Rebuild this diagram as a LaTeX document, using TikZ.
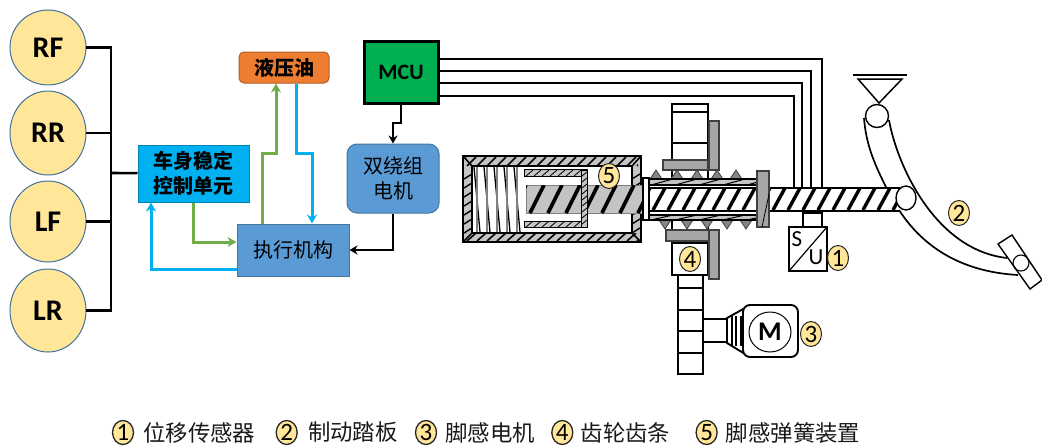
\documentclass[tikz,border=0pt]{standalone}
\usepackage{fontspec}
\usepackage{xcolor}
\setmainfont{Carlito}
\newfontfamily\cjk{Noto Sans CJK SC}
\usetikzlibrary{positioning,arrows.meta,shapes.geometric}
\definecolor{wheelfill}{HTML}{FFE699}
\definecolor{slate}{HTML}{41719C}
\definecolor{cyanline}{HTML}{00B0F0}
\definecolor{greenline}{HTML}{70AD47}
\definecolor{blockblue}{HTML}{5B9BD5}
\definecolor{oilfill}{HTML}{ED7D31}
\definecolor{mcufill}{HTML}{00B050}
\definecolor{metal}{HTML}{C4C4C4}
\definecolor{bar}{HTML}{A6A6A6}
\newcommand{\stripes}[7]{\begin{scope}
  \clip (#1,#2) rectangle (#3,#4);
  \pgfmathsetmacro{\xa}{#1-#6}\pgfmathsetmacro{\xb}{\xa+#5}
  \foreach \sx in {\xa,\xb,...,#3} \draw[line width=#7] (\sx,#4) -- ++(#6,#2-#4);
\end{scope}}

\begin{document}
\begin{tikzpicture}[x=1pt, y=-1pt, >=Stealth,
  wheel/.style={ellipse, draw=slate, fill=wheelfill, line width=1pt, minimum width=76pt,
    inner sep=0pt, outer sep=0pt, font=\fontsize{30}{33}\selectfont\bfseries},
  block/.style={rectangle, draw=#1!75!black, fill=#1, line width=1pt, align=center, inner sep=0pt,
    font=\fontsize{20}{25}\selectfont\cjk},
  badge/.style={ellipse, draw=black!85, fill=wheelfill, line width=1pt, minimum width=21pt, minimum height=25pt,
    inner sep=0pt, font=\fontsize{25}{27}\selectfont},
  legend/.style={font=\fontsize{22.4}{26}\selectfont\cjk, inner sep=0pt, text=black!90},
  wire/.style={line width=2.6pt, black},
  greenarrow/.style={line width=3pt, greenline, -{Stealth[length=9pt,width=10pt]}},
  cyanarrow/.style={line width=3pt, cyanline, -{Stealth[length=9pt,width=10pt]}},
  dark/.style={line width=2.8pt, black, -{Stealth[length=8pt,width=9pt]}},
  part/.style={draw=black, fill=white, line width=1.9pt},
  grey/.style={draw=black!75, fill=bar, line width=1.2pt}]
  \useasboundingbox (0,0) rectangle (1042,445);

  \node[wheel, minimum height=75pt] (rf) at (48,47.5) {RF};
  \node[wheel, minimum height=84pt, below=6pt of rf] (rr) {RR};
  \node[wheel, minimum height=81pt, below=6pt of rr] (lf) {LF};
  \node[wheel, minimum height=83pt, below=7pt of lf] (lr) {LR};
  \node[block=cyanline, minimum width=111pt, minimum height=57pt, font=\fontsize{20}{25}\selectfont\cjk\bfseries] (esc) at (193.5,173.5) {车身稳定\\控制单元};
  \node[block=oilfill, rounded corners=5pt, minimum width=90pt, minimum height=31pt, font=\fontsize{20}{25}\selectfont\cjk\bfseries] (oil) at (284,67.5) {液压油};
  \node[block=mcufill, draw=black, line width=3pt, minimum width=74pt, minimum height=62pt, font=\fontsize{22}{25}\selectfont\bfseries] (mcu) at (401,72) {MCU};
  \node[block=blockblue, rounded corners=10pt, minimum width=92pt, minimum height=69pt] (dual) at (393,178.5) {双绕组\\电机};
  \node[block=blockblue, minimum width=112pt, minimum height=52pt] (act) at (293,250) {执行机构};

  \coordinate (bus) at (111,173);
  \coordinate (gup) at (276,153);
  \coordinate (bdn) at (312,153);
  \coordinate (kink) at (393,123);
  \coordinate (shaft) at (900,187);

  \draw[wire] (rf) -| (bus);
  \draw[wire] (rr) -| (bus);
  \draw[wire] (lf) -| (bus);
  \draw[wire] (lr) -| (bus);
  \draw[wire] (bus) -- (esc);
  \draw[greenarrow] (esc.south) |- ([yshift=8pt]act.west);
  \draw[greenarrow] ([xshift=-31pt]act.north) |- (gup) -- (gup |- oil.south);
  \draw[cyanarrow] ([xshift=12pt]oil.south) |- (bdn) -- (bdn |- act.north);
  \draw[cyanarrow] ([yshift=-19pt]act.west) -| ([xshift=-42.5pt]esc.south);
  \draw[dark] (mcu.south) |- (kink) -- (dual.north);
  \draw[dark] (dual.south) |- (act.east);
  \foreach \dy/\tap in {13/822, 1/811, -11/802, -24/794}
    \draw[line width=2pt] ([yshift=\dy pt]mcu.east) -| (\tap,0 |- shaft);

  % rack and motor
  \draw[part] (678,275) rectangle (703,374);
  \foreach \ry in {288,310,331,353} \draw[line width=1.7pt] (678,\ry) -- (703,\ry);
  \draw[part] (703,319) rectangle (727,342);
  \draw[part] (727,318) -- (745,308) -- (745,354) -- (727,343) -- cycle;
  \foreach \cx in {732,736,741} \draw[line width=1.7pt] (\cx,316) -- (\cx,346);
  \draw[part, rounded corners=7pt] (743,305) rectangle (798,357);
  \draw[line width=1pt] (770,332) ellipse (21 and 20);
  \node[font=\fontsize{27}{30}\selectfont\bfseries, inner sep=0pt] (mlabel) at (770,332) {M};

  % gear
  \draw[part, line width=1.6pt] (672,104) rectangle (708,230);
  \foreach \ry in {112,143} \draw[line width=1.5pt] (672,\ry) -- (708,\ry);
  \draw[grey] (709,121) rectangle (719,170);
  \draw[grey] (663,160) rectangle (708,170);
  \draw[part] (672,243) rectangle (708,275);
  \draw[grey] (709,230) rectangle (719,279);
  \draw[grey] (666,230) rectangle (709,241);

  % housing
  \draw[draw=black, fill=metal, line width=2.6pt] (463,156) rectangle (641,242);
  \stripes{466}{157}{638}{166}{10}{9}{1.6pt}
  \stripes{466}{233}{638}{241}{10}{9}{1.6pt}
  \foreach \wy in {179,188,...,233} {
    \draw[line width=1.4pt] (464,\wy) -- (472,\wy-5);
    \draw[line width=1.4pt] (632,\wy) -- (640,\wy-5);
  }
  \draw[fill=white, line width=2pt] (472,166) rectangle (632,233);
  \foreach \cxa/\cya/\cxb/\cyb in {463/156/472/166, 641/156/632/166, 463/242/472/233, 641/242/632/233}
    \draw[line width=1.6pt] (\cxa,\cya) -- (\cxb,\cyb);

  % spring
  \foreach \sx in {474,484,494,504,514} {
    \draw[line width=1.3pt] (\sx,167) -- (\sx+6,232);
    \draw[black!50, line width=1.1pt] (\sx+3,167) -- (\sx+3,232);
  }

  % rod and piston
  \draw[draw=black!50, fill=metal, line width=0.8pt] (526,185) rectangle (644,213);
  \stripes{526}{185}{644}{213}{18}{14}{3.6pt}
  \draw[draw=black, fill=metal, line width=1pt] (524,169.5) rectangle (587,176);
  \stripes{525}{170}{586}{176}{8}{7}{0.8pt}
  \draw[draw=black, fill=metal, line width=1pt] (524,221) rectangle (587,227.5);
  \stripes{525}{221}{586}{227}{8}{7}{0.8pt}
  \draw[draw=black, fill=metal, line width=1pt] (581.5,170) rectangle (587,227);
  \foreach \wy in {176,182,...,224} \draw[line width=0.8pt] (582,\wy) -- (587,\wy-4);

  % worm and shaft
  \foreach \tx in {656,677,697,717,736}
    \draw[draw=black!75, fill=bar!80!black, line width=0.8pt] (\tx-6,179) -- (\tx,170) -- (\tx+6,179) -- cycle;
  \foreach \tx in {665,687,707,727,746}
    \draw[draw=black!75, fill=bar!80!black, line width=0.8pt] (\tx-6,220) -- (\tx,229) -- (\tx+6,220) -- cycle;
  \fill[white] (649,179) rectangle (757,220);
  \draw[draw=black, fill=metal, line width=1.1pt] (649,179) rectangle (757,185);
  \stripes{649}{179}{757}{185}{24}{22}{1pt}
  \draw[draw=black, fill=metal, line width=1.1pt] (649,215) rectangle (757,220);
  \stripes{649}{215}{757}{220}{24}{22}{1pt}
  \stripes{650}{188}{900}{210}{15}{12}{3.4pt}
  \draw[line width=2pt] (650,187.5) -- (900,187.5);
  \draw[line width=2pt] (650,210.5) -- (900,210.5);
  \draw[draw=black, fill=white, line width=1.8pt] (643,178) rectangle (649,220);
  \draw[grey] (757,171) rectangle (769,227);
  \stripes{757}{171}{769}{227}{17}{12}{0.8pt}

  % sensor
  \draw[part, line width=1.4pt] (803,213) rectangle (822,227);
  \draw[part, line width=1.4pt] (789,227) rectangle (827,271);
  \draw[line width=1.2pt] (789,271) -- (827,227);
  \node[font=\fontsize{23}{26}\selectfont, inner sep=0pt] (slabel) at (797,239) {S};
  \node[font=\fontsize{23}{26}\selectfont, inner sep=0pt] (ulabel) at (816,257) {U};

  % pedal
  \draw[line width=1.8pt] (853,75) -- (907,75);
  \draw[line width=1.5pt] (858,79) -- (902,79) -- (879,103) -- cycle;
  \draw[line width=1.7pt] (889,120) .. controls (897,165) and (935,250) .. (1007,258);
  \draw[line width=1.7pt] (864,118) .. controls (866,145) and (875,165) .. (886,187);
  \draw[line width=1.7pt] (899,210) .. controls (925,250) and (965,272) .. (1018,275);
  \draw[draw=black, fill=white, line width=1.4pt] (877,116) circle (11.5);
  \draw[draw=black, fill=white, line width=1.4pt] (906,198) ellipse (10 and 12);
  \draw[draw=black, fill=white, line width=1.4pt] (998,244) -- (1012,235) -- (1042,280) -- (1030,289) -- cycle;
  \draw[draw=black, line width=1.1pt] (1021,263) circle (8);

  \node[badge] (n1) at (838,258) {1};
  \node[badge] (n2) at (959,213) {2};
  \node[badge] (n3) at (811,334) {3};
  \node[badge] (n4) at (690,259) {4};
  \node[badge] (n5) at (609,176) {5};

  \node[badge, line width=1.3pt, minimum height=24pt] (k1) at (123,432.5) {1};
  \node[legend, right=9pt of k1] (t1) {位移传感器};
  \node[badge, line width=1.3pt, minimum height=24pt, right=20pt of t1] (k2) {2};
  \node[legend, right=10pt of k2] (t2) {制动踏板};
  \node[badge, line width=1.3pt, minimum height=24pt, right=17pt of t2] (k3) {3};
  \node[legend, right=8pt of k3] (t3) {脚感电机};
  \node[badge, line width=1.3pt, minimum height=24pt, right=16pt of t3] (k4) {4};
  \node[legend, right=7pt of k4] (t4) {齿轮齿条};
  \node[badge, line width=1.3pt, minimum height=24pt, right=25pt of t4] (k5) {5};
  \node[legend, right=8pt of k5] (t5) {脚感弹簧装置};
\end{tikzpicture}
\end{document}
